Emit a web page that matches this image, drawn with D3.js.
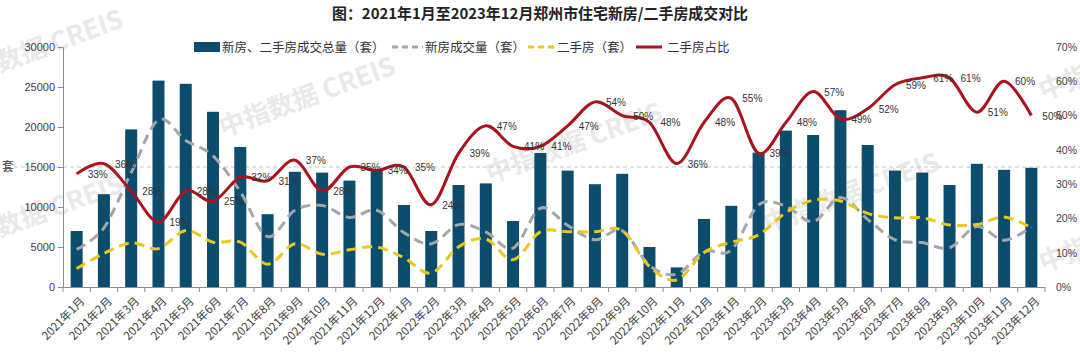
<!DOCTYPE html>
<html>
<head>
<meta charset="utf-8">
<script src="https://cdn.jsdelivr.net/npm/d3@7"></script>
<style>
  html, body { margin: 0; padding: 0; background: #fff; }
  svg { display: block; }
  text { font-family: "Liberation Sans", "Noto Sans CJK SC", sans-serif; }
  .cjk { font-family: "Noto Sans CJK SC", "Liberation Sans", sans-serif; }
</style>
</head>
<body>
<div id="chart"></div>
<script>
// ---------------- data ----------------
const months = [
  "2021年1月","2021年2月","2021年3月","2021年4月","2021年5月","2021年6月",
  "2021年7月","2021年8月","2021年9月","2021年10月","2021年11月","2021年12月",
  "2022年1月","2022年2月","2022年3月","2022年4月","2022年5月","2022年6月",
  "2022年7月","2022年8月","2022年9月","2022年10月","2022年11月","2022年12月",
  "2023年1月","2023年2月","2023年3月","2023年4月","2023年5月","2023年6月",
  "2023年7月","2023年8月","2023年9月","2023年10月","2023年11月","2023年12月"
];
// 新房、二手房成交总量（套）
const totalVolume = [
  7000, 11600, 19700, 25800, 25400, 21900, 17500, 9100, 14400, 14300, 13300, 14600,
  10250, 7000, 12750, 12950, 8250, 16750, 14550, 12850, 14150, 5000, 2450, 8500,
  10150, 16800, 19550, 19000, 22100, 17750, 14550, 14300, 12750, 15400, 14650, 14900
];
// 新房成交量（套）
const newVolume = [
  4700, 7400, 14300, 20900, 18300, 16400, 11900, 6300, 9600, 10200, 8700, 9600,
  6800, 5400, 7800, 6900, 4850, 9850, 7700, 5900, 7050, 2700, 1600, 4420,
  4600, 10250, 10100, 8170, 11200, 8450, 5900, 5550, 4900, 7550, 5850, 7500
];
// 二手房（套）
const secondVolume = [
  2300, 4200, 5500, 4800, 7050, 5600, 5600, 2850, 5400, 4100, 4650, 5000,
  3650, 1750, 5000, 6000, 3400, 6900, 6900, 6900, 7050, 2550, 880, 4300,
  5600, 6500, 9300, 10850, 10750, 9200, 8650, 8650, 7760, 7800, 8750, 7400
];
// 二手房占比 (%)
const secondShare = [
  33, 36, 28, 19, 28, 25, 32, 31, 37, 28, 35, 34,
  35, 24, 39, 47, 41, 41, 47, 54, 50, 48, 36, 48,
  55, 39, 48, 57, 49, 52, 59, 61, 61, 51, 60, 50
];
const leftTicks = [0, 5000, 10000, 15000, 20000, 25000, 30000];
const rightTicks = [0, 10, 20, 30, 40, 50, 60, 70];
const seriesNames = ["新房、二手房成交总量（套）", "新房成交量（套）", "二手房（套）", "二手房占比"];
const titleText = "图：2021年1月至2023年12月郑州市住宅新房/二手房成交对比";
const leftUnit = "套";
const watermark = "中指数据  CREIS";

// ---------------- layout ----------------
const W = 1080, H = 357;
const plot = { left: 63, right: 1045, top: 47, bottom: 287 };
const C = {
  bar: "#0c4d6e", red: "#a8131f", gray: "#a3a6aa", yellow: "#e8c81e",
  axis: "#8c8c8c", text: "#404040"
};

const svg = d3.select("#chart").append("svg").attr("width", W).attr("height", H);

// watermarks (faint)
const wm = svg.append("g").attr("fill", "#e9e9e9")
  .attr("font-size", 26).attr("font-weight", "bold");
[[-49, 90], [223, 137], [490, 183], [767, 233], [-49, 255], [1043, 100], [1043, 272]]
  .forEach(([x, y]) => {
    wm.append("text").attr("class", "cjk").attr("transform", `translate(${x},${y}) rotate(-20)`).text(watermark);
  });

// scales
const x = d3.scaleBand().domain(months).range([plot.left, plot.right])
  .paddingInner(0.56).paddingOuter(0.28);
const yL = d3.scaleLinear().domain([0, 30000]).range([plot.bottom, plot.top]);
const yR = d3.scaleLinear().domain([0, 70]).range([plot.bottom, plot.top]);
const cx = d => x(d) + x.bandwidth() / 2;

// title
svg.append("text").attr("class", "cjk").attr("x", 540).attr("y", 19)
  .attr("text-anchor", "middle").attr("font-size", 15).attr("font-weight", "bold")
  .attr("fill", "#222").attr("textLength", 416).attr("lengthAdjust", "spacingAndGlyphs")
  .text(titleText);

// dashed reference line at 15000
svg.append("line").attr("x1", 14).attr("x2", W).attr("y1", yL(15000)).attr("y2", yL(15000))
  .attr("stroke", "#c4c4c4").attr("stroke-width", 1).attr("stroke-dasharray", "4,3");

// bars
svg.append("g").selectAll("rect").data(months).join("rect")
  .attr("x", d => x(d)).attr("width", x.bandwidth())
  .attr("y", (d, i) => yL(totalVolume[i]))
  .attr("height", (d, i) => yL(0) - yL(totalVolume[i]))
  .attr("fill", C.bar);

const curve = d3.curveCardinal.tension(0);
const lineL = arr => d3.line().x((d, i) => cx(months[i])).y(d => yL(d)).curve(curve)(arr);
const lineR = d3.line().x((d, i) => cx(months[i])).y(d => yR(d)).curve(curve);

svg.append("path").attr("d", lineL(newVolume)).attr("fill", "none")
  .attr("stroke", C.gray).attr("stroke-width", 3).attr("stroke-dasharray", "10,6");
svg.append("path").attr("d", lineL(secondVolume)).attr("fill", "none")
  .attr("stroke", C.yellow).attr("stroke-width", 3).attr("stroke-dasharray", "10,6");
svg.append("path").attr("d", lineR(secondShare)).attr("fill", "none")
  .attr("stroke", C.red).attr("stroke-width", 3);

// data labels
svg.append("g").selectAll("text").data(secondShare).join("text")
  .attr("x", (d, i) => cx(months[i]) + 21).attr("y", d => yR(d) + 4)
  .attr("text-anchor", "middle").attr("font-size", 10).attr("fill", "#333")
  .text(d => d + "%");

// left axis
const axL = svg.append("g").attr("transform", `translate(${plot.left},0)`)
  .call(d3.axisLeft(yL).tickValues(leftTicks).tickSize(5).tickSizeOuter(0).tickFormat(d3.format("d")));
axL.select(".domain").attr("stroke", C.axis);
axL.selectAll(".tick line").attr("stroke", C.axis);
axL.selectAll(".tick text").attr("font-size", 11).attr("fill", C.text).attr("x", -8)
  .attr("font-family", "Liberation Sans, sans-serif");

svg.append("text").attr("class", "cjk").attr("x", 8).attr("y", yL(15000) + 4)
  .attr("text-anchor", "middle").attr("font-size", 12).attr("fill", C.text).text(leftUnit);

// right axis (labels only)
const axR = svg.append("g").attr("transform", `translate(${plot.right + 8},0)`)
  .call(d3.axisRight(yR).tickValues(rightTicks).tickSize(0).tickFormat(d => d + "%"));
axR.select(".domain").remove();
axR.selectAll(".tick text").attr("font-size", 10.5).attr("fill", C.text)
  .attr("font-family", "Liberation Sans, sans-serif");

// bottom axis
const axB = svg.append("g").attr("transform", `translate(0,${plot.bottom})`)
  .call(d3.axisBottom(x).tickSize(0).tickSizeOuter(0));
axB.select(".domain").attr("stroke", C.axis);
axB.selectAll(".tick text")
  .attr("font-size", 11.5).attr("fill", C.text)
  .attr("class", "cjk")
  .attr("text-anchor", "end")
  .attr("transform", "translate(6,12) rotate(-45)")
  .attr("dy", "0.35em").attr("y", 0).attr("x", 0);
// boundary tick marks
const step = x.step();
const bounds = d3.range(months.length + 1).map(k => x(months[0]) - step * x.paddingInner() / 2 + k * step);
axB.append("g").selectAll("line").data(bounds).join("line")
  .attr("x1", d => d).attr("x2", d => d).attr("y1", 0).attr("y2", 5)
  .attr("stroke", C.axis);

// legend
const lg = svg.append("g").attr("font-size", 12.5).attr("fill", "#333");
const ly = 47;
lg.append("rect").attr("x", 194).attr("y", ly - 5).attr("width", 26).attr("height", 10).attr("fill", C.bar);
lg.append("text").attr("class", "cjk").attr("x", 222).attr("y", ly + 4.5).text(seriesNames[0]);
lg.append("line").attr("x1", 392).attr("x2", 423).attr("y1", ly).attr("y2", ly)
  .attr("stroke", C.gray).attr("stroke-width", 3).attr("stroke-dasharray", "6,4");
lg.append("text").attr("class", "cjk").attr("x", 425).attr("y", ly + 4.5).text(seriesNames[1]);
lg.append("line").attr("x1", 528).attr("x2", 556).attr("y1", ly).attr("y2", ly)
  .attr("stroke", C.yellow).attr("stroke-width", 3).attr("stroke-dasharray", "6,4");
lg.append("text").attr("class", "cjk").attr("x", 557).attr("y", ly + 4.5).text(seriesNames[2]);
lg.append("line").attr("x1", 636).attr("x2", 662).attr("y1", ly).attr("y2", ly)
  .attr("stroke", C.red).attr("stroke-width", 3);
lg.append("text").attr("class", "cjk").attr("x", 667).attr("y", ly + 4.5).text(seriesNames[3]);
</script>
</body>
</html>
